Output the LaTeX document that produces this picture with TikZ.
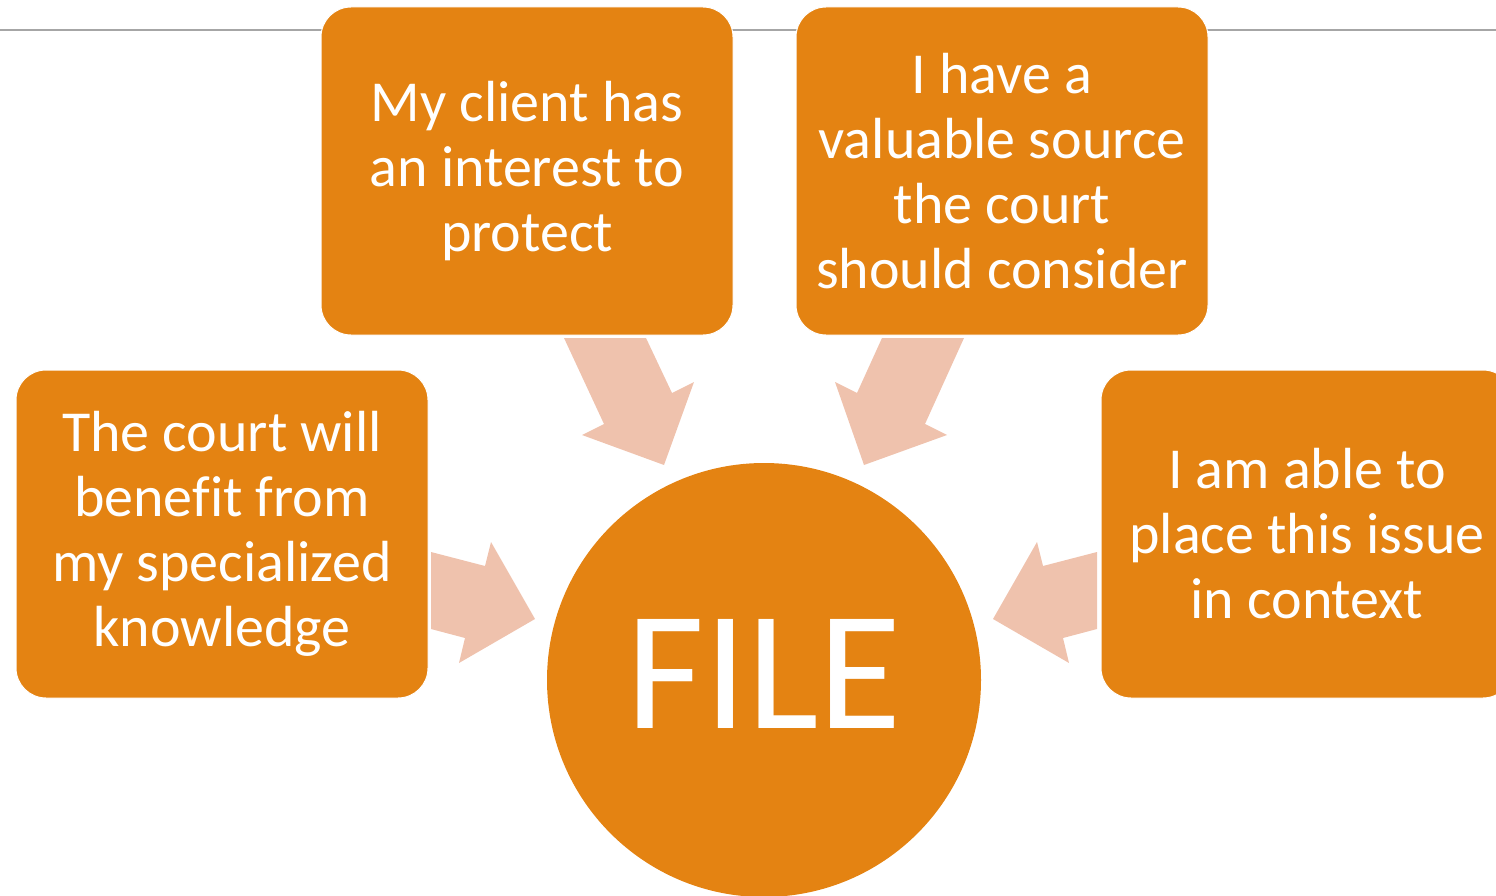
\documentclass[tikz,border=0pt]{standalone}
\usepackage{fontspec}
\setmainfont{Carlito}[Ligatures=NoCommon]
\definecolor{fileorange}{HTML}{E48312}
\definecolor{arrowpink}{HTML}{EFC2AD}
\definecolor{rulegray}{HTML}{A6A6A6}
\begin{document}
\begin{tikzpicture}[x=1pt,y=-1pt,
		reason/.style={draw=white,line width=1pt,fill=fileorange,rounded corners=30pt,
			minimum width=412pt,minimum height=328pt,inner sep=0pt,align=center,
			text=white,font=\fontsize{58}{65}\selectfont},
		decision/.style={circle,fill=fileorange,minimum size=434pt,inner sep=0pt,
			text depth=12pt,text=white,font=\fontsize{170}{170}\selectfont},
		push/.style={fill=arrowpink}]
			\useasboundingbox (0,0) rectangle (1496,896);
			\draw[rulegray,line width=2pt] (0,30) -- (1496,30);
			%
			\node[reason] (interest)  at (527, 171)	{My client has\\an interest to\\protect};
			\node[reason] (source)    at (1002,171)	{I have a\\valuable source\\the court\\should consider};
			\node[reason] (knowledge) at (222, 534)	{The court will\\benefit from\\my specialized\\knowledge};
			\node[reason] (context)   at (1307,534)	{I am able to\\place this issue\\in context};
			\node[decision] (file)    at (764, 680)	{FILE};
			%
			% block arrows into the circle
			\fill[push] (564,338) -- (646,338) -- (672,393) -- (694,382) -- (664,465) -- (582,435) -- (604,424) -- cycle;
			\fill[push] (964,338) -- (882,338) -- (857,393) -- (835,382) -- (864,465) -- (947,435) -- (925,424) -- cycle;
			\fill[push] (431,552) -- (485,566) -- (491,542) -- (535,619) -- (459,663) -- (465,638) -- (431,629) -- cycle;
			\fill[push] (1097,552) -- (1043,566) -- (1037,542) -- (993,619) -- (1069,663) -- (1063,638) -- (1097,629) -- cycle;
		\end{tikzpicture}
\end{document}
